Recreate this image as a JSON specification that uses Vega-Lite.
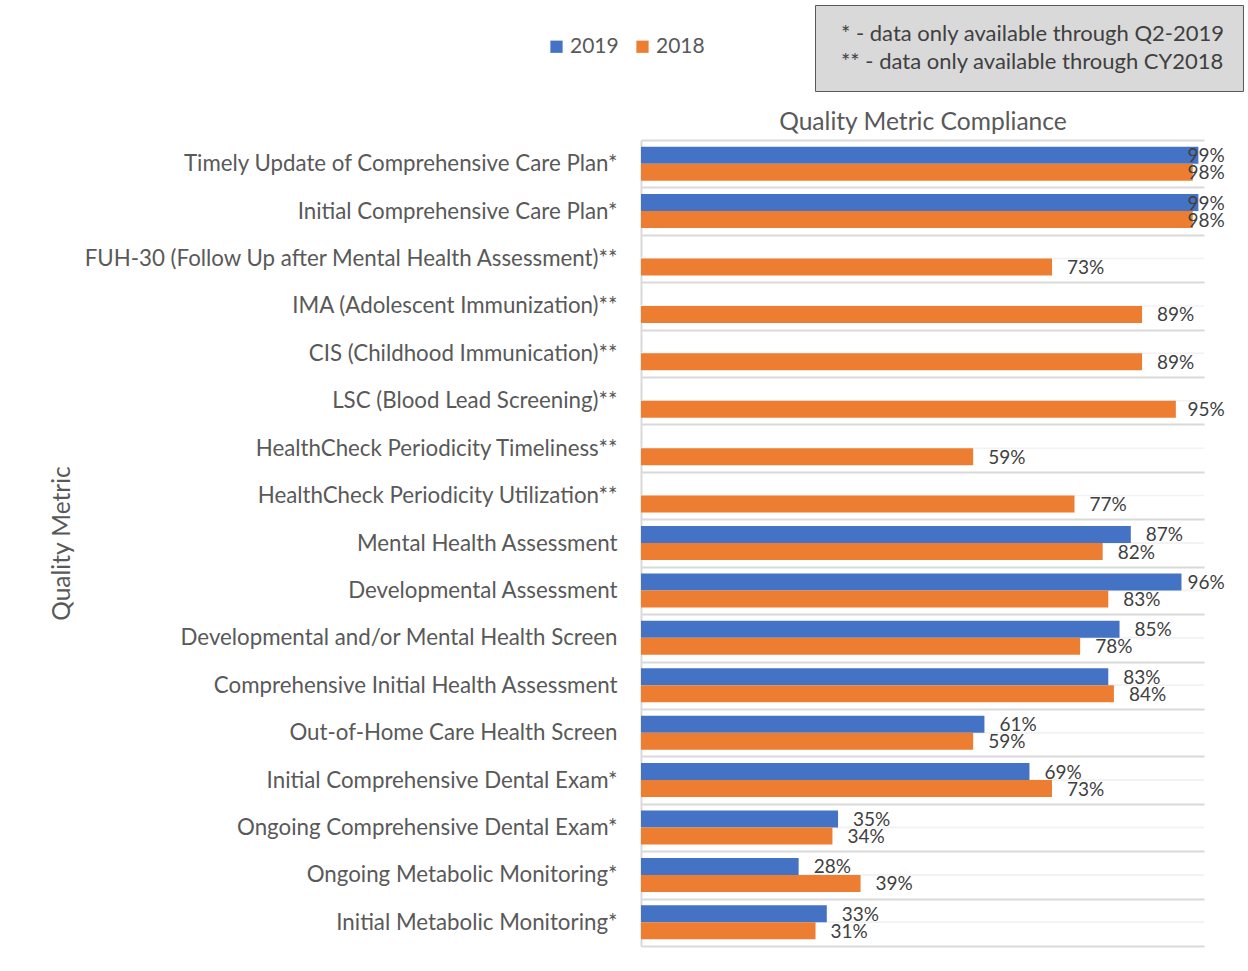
{
  "$schema": "https://vega.github.io/schema/vega-lite/v6.json",
  "autosize": {"type": "none"},
  "width": 563,
  "height": 806,
  "padding": {"left": 641, "top": 140, "right": 44, "bottom": 25},
  "background": "white",
  "config": {
    "font": "Lato",
    "view": {"stroke": null}
  },
  "datasets": {
    "bars": [
      {"metric": "Timely Update of Comprehensive Care Plan*", "year": "2019", "value": 0.99},
      {"metric": "Timely Update of Comprehensive Care Plan*", "year": "2018", "value": 0.98},
      {"metric": "Initial Comprehensive Care Plan*", "year": "2019", "value": 0.99},
      {"metric": "Initial Comprehensive Care Plan*", "year": "2018", "value": 0.98},
      {"metric": "FUH-30 (Follow Up after Mental Health Assessment)**", "year": "2018", "value": 0.73},
      {"metric": "IMA (Adolescent Immunization)**", "year": "2018", "value": 0.89},
      {"metric": "CIS (Childhood Immunication)**", "year": "2018", "value": 0.89},
      {"metric": "LSC (Blood Lead Screening)**", "year": "2018", "value": 0.95},
      {"metric": "HealthCheck Periodicity Timeliness**", "year": "2018", "value": 0.59},
      {"metric": "HealthCheck Periodicity Utilization**", "year": "2018", "value": 0.77},
      {"metric": "Mental Health Assessment", "year": "2019", "value": 0.87},
      {"metric": "Mental Health Assessment", "year": "2018", "value": 0.82},
      {"metric": "Developmental Assessment", "year": "2019", "value": 0.96},
      {"metric": "Developmental Assessment", "year": "2018", "value": 0.83},
      {"metric": "Developmental and/or Mental Health Screen", "year": "2019", "value": 0.85},
      {"metric": "Developmental and/or Mental Health Screen", "year": "2018", "value": 0.78},
      {"metric": "Comprehensive Initial Health Assessment", "year": "2019", "value": 0.83},
      {"metric": "Comprehensive Initial Health Assessment", "year": "2018", "value": 0.84},
      {"metric": "Out-of-Home Care Health Screen", "year": "2019", "value": 0.61},
      {"metric": "Out-of-Home Care Health Screen", "year": "2018", "value": 0.59},
      {"metric": "Initial Comprehensive Dental Exam*", "year": "2019", "value": 0.69},
      {"metric": "Initial Comprehensive Dental Exam*", "year": "2018", "value": 0.73},
      {"metric": "Ongoing Comprehensive Dental Exam*", "year": "2019", "value": 0.35},
      {"metric": "Ongoing Comprehensive Dental Exam*", "year": "2018", "value": 0.34},
      {"metric": "Ongoing Metabolic Monitoring*", "year": "2019", "value": 0.28},
      {"metric": "Ongoing Metabolic Monitoring*", "year": "2018", "value": 0.39},
      {"metric": "Initial Metabolic Monitoring*", "year": "2019", "value": 0.33},
      {"metric": "Initial Metabolic Monitoring*", "year": "2018", "value": 0.31}
    ],
    "notes": [
      {"note": "* - data only available through Q2-2019"},
      {"note": "** - data only available through CY2018"}
    ]
  },
  "data": {"name": "bars"},
  "encoding": {
    "y": {
      "field": "metric",
      "type": "nominal",
      "sort": null,
      "scale": {"paddingInner": 0, "paddingOuter": 0},
      "axis": {
        "title": "Quality Metric",
        "titleFont": "Lato",
        "titleFontSize": 24.5,
        "titleFontWeight": "normal",
        "titleColor": "#595959",
        "titleX": -579,
        "titleY": 403,
        "titleAngle": -90,
        "titleAlign": "center",
        "titleBaseline": "middle",
        "labelFont": "Lato",
        "labelFontSize": 22.3,
        "labelColor": "#595959",
        "labelLimit": 600,
        "labelPadding": 24,
        "ticks": false,
        "tickSize": 0,
        "domain": true,
        "domainColor": "#d9d9d9",
        "domainWidth": 2,
        "grid": true,
        "gridColor": "#d9d9d9",
        "gridWidth": 2,
        "tickBand": "extent"
      }
    }
  },
  "layer": [
    {
      "mark": {"type": "rule", "color": "#f2f2f2", "strokeWidth": 1.5},
      "encoding": {}
    },
    {
      "mark": {"type": "bar"},
      "encoding": {
        "x": {
          "field": "value",
          "type": "quantitative",
          "scale": {"domain": [0, 1], "nice": false},
          "axis": {
            "orient": "top",
            "labels": false,
            "ticks": false,
            "grid": false,
            "domain": false,
            "title": "Quality Metric Compliance",
            "titleFont": "Lato",
            "titleFontSize": 24.6,
            "titleFontWeight": "normal",
            "titleColor": "#595959",
            "titleBaseline": "alphabetic",
            "titlePadding": 11
          }
        },
        "yOffset": {
          "field": "year",
          "type": "nominal",
          "sort": ["2019", "2018"],
          "scale": {"paddingInner": 0, "paddingOuter": 0.394}
        },
        "color": {
          "field": "year",
          "type": "nominal",
          "scale": {"domain": ["2019", "2018"], "range": ["#4472C4", "#ED7D31"]},
          "legend": {
            "title": null,
            "orient": "none",
            "direction": "horizontal",
            "legendX": -95,
            "legendY": -104,
            "symbolType": "square",
            "symbolSize": 150,
            "symbolStrokeWidth": 0,
            "labelFont": "Lato",
            "labelFontSize": 21,
            "labelColor": "#595959",
            "labelOffset": 3,
            "columnPadding": 13,
            "padding": 0
          }
        }
      }
    },
    {
      "transform": [{"calculate": "min(datum.value, 0.944)", "as": "labelPos"}],
      "mark": {"type": "text", "align": "left", "baseline": "middle", "dx": 15, "dy": 1, "fontSize": 19, "font": "Lato", "color": "#404040"},
      "encoding": {
        "x": {"field": "labelPos", "type": "quantitative"},
        "yOffset": {"field": "year", "type": "nominal", "sort": ["2019", "2018"]},
        "text": {"field": "value", "type": "quantitative", "format": ".0%"}
      }
    },
    {
      "data": {"name": "notes"},
      "mark": {"type": "point", "opacity": 0},
      "encoding": {
        "y": null,
        "shape": {
          "field": "note",
          "type": "nominal",
          "sort": null,
          "legend": {
            "title": null,
            "orient": "none",
            "direction": "vertical",
            "legendX": 174,
            "legendY": -135,
            "fillColor": "#d9d9d9",
            "strokeColor": "#595959",
            "padding": 18,
            "symbolSize": 1,
            "symbolOpacity": 0,
            "symbolStrokeWidth": 0,
            "labelOffset": -14,
            "labelFont": "Lato",
            "labelFontSize": 22,
            "labelColor": "#404040",
            "labelLimit": 600,
            "rowPadding": 6
          }
        }
      }
    }
  ]
}
